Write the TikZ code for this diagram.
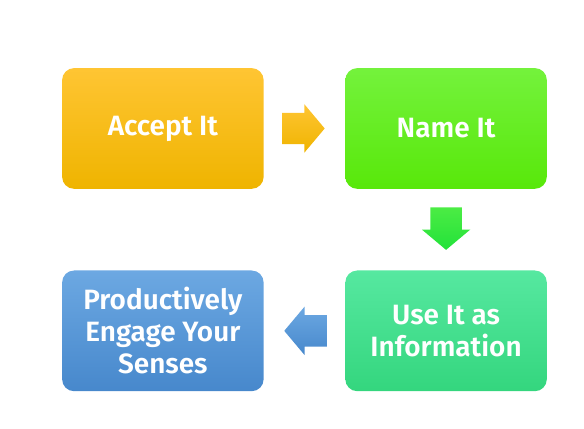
\documentclass[tikz,border=0pt]{standalone}
\usepackage{fontspec}
\setmainfont{Fira Sans}[UprightFont={* SemiBold}]
\usetikzlibrary{positioning,calc,shapes.arrows}

\definecolor{orangetop}{HTML}{FFC533}
\definecolor{orangebot}{HTML}{EFB400}
\definecolor{limetop}{HTML}{74F23C}
\definecolor{limebot}{HTML}{58E80A}
\definecolor{mintop}{HTML}{56E8A0}
\definecolor{mintbot}{HTML}{34D67E}
\definecolor{bluetop}{HTML}{6CA8E2}
\definecolor{bluebot}{HTML}{4788CC}
\definecolor{greentop}{HTML}{4CEC44}
\definecolor{greenbot}{HTML}{22E23A}

\tikzset{
  box/.style={rounded corners=9pt, minimum width=151.5pt, minimum height=90.75pt,
    align=center, text=white, font=\fontsize{21}{24}\selectfont, inner sep=2pt},
  blockarrow/.style={single arrow, minimum height=32pt, anchor=tail,
    single arrow head extend=6.4pt, single arrow tip angle=100},
  across/.style={inner xsep=0pt, inner ysep=11.6pt},
  updown/.style={inner xsep=11.6pt, inner ysep=0pt, shape border rotate=270}
}

\begin{document}
\begin{tikzpicture}[node distance=61pt and 61pt]
  \node[box, top color=orangetop, bottom color=orangebot] (accept) {Accept It};
  \node[box, top color=limetop, bottom color=limebot, right=of accept] (name) {Name It};
  \node[box, top color=mintop, bottom color=mintbot, below=of name] (use) {Use It as\\Information};
  \node[box, top color=bluetop, bottom color=bluebot, left=of use] (engage) {Productively\\Engage Your\\Senses};

  % block arrows between the steps
  \node[blockarrow, across, top color=orangetop, bottom color=orangebot] (a1) at ($(accept.east)+(13.5pt,0)$) {};
  \node[blockarrow, updown, top color=greentop, bottom color=greenbot] (a2) at ($(name.south)+(0,-13.5pt)$) {};
  \node[blockarrow, across, shape border rotate=180, top color=bluetop, bottom color=bluebot] (a3) at ($(use.west)+(-13.5pt,0)$) {};

  \useasboundingbox ($(accept.north west)+(-46.5pt,51pt)$) rectangle ($(use.south east)+(27.75pt,-27.75pt)$);
\end{tikzpicture}
\end{document}
